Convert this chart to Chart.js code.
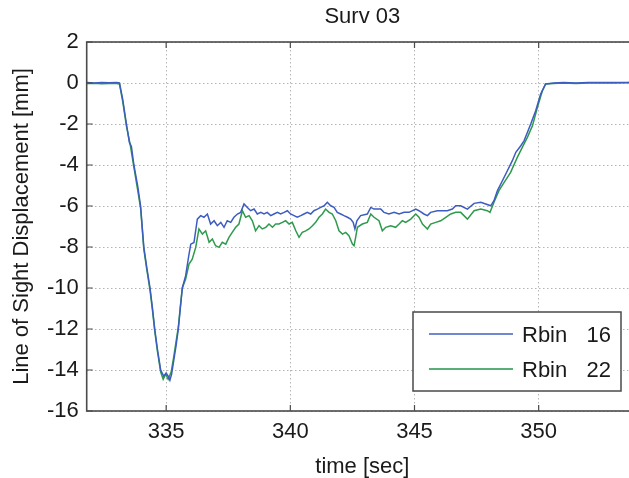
<!DOCTYPE html>
<html><head><meta charset="utf-8">
<script src="https://cdn.jsdelivr.net/npm/chart.js@4.4.0/dist/chart.umd.min.js"></script>
<style>html,body{margin:0;padding:0;overflow:hidden;background:#fff;width:629px;height:478px}canvas{display:block}</style>
</head><body><canvas id="c" width="640" height="478"></canvas>
<script>
const titleText = 'Surv 03';
const xLabel = 'time [sec]';
const yLabel = 'Line of Sight Displacement [mm]';
const xTicks = [335, 340, 345, 350];
const yTicks = [2, 0, -2, -4, -6, -8, -10, -12, -14, -16];
const seriesLabels = ['Rbin   16', 'Rbin   22'];

const t16 = [331.8,332.1,332.4,332.7,333.0,333.12,333.25,333.4,333.52,333.6,333.7,333.85,333.97,334.1,334.22,334.35,334.45,334.54,334.65,334.78,334.9,335.0,335.08,335.15,335.22,335.31,335.4,335.49,335.57,335.65,335.785,335.9,335.99,336.12,336.255,336.39,336.52,336.66,336.79,336.93,337.06,337.2,337.33,337.46,337.6,337.73,337.87,338.0,338.135,338.27,338.4,338.54,338.67,338.81,338.94,339.07,339.21,339.34,339.48,339.61,339.75,339.88,340.01,340.15,340.28,340.42,340.55,340.685,340.82,340.95,341.09,341.22,341.36,341.49,341.625,341.76,341.89,342.03,342.16,342.3,342.43,342.53,342.6,342.68,342.83,343.1,343.24,343.37,343.64,343.77,343.97,344.18,344.38,344.58,344.78,345.05,345.18,345.38,345.52,345.65,345.92,346.12,346.32,346.525,346.66,346.86,347.13,347.4,347.67,347.87,348.07,348.2,348.34,348.54,348.74,348.94,349.08,349.28,349.41,349.545,349.68,349.88,350.08,350.28,350.6,351.0,351.5,352.0,352.5,353.0,353.5,354.0];
const d16 = [0.02,0.0,0.03,0.01,0.03,0.0,-0.8,-2.0,-2.9,-3.1,-4.0,-5.0,-6.0,-8.0,-9.0,-10.0,-11.0,-12.0,-13.0,-14.0,-14.3,-14.15,-14.3,-14.5,-14.2,-13.5,-12.8,-12.0,-11.0,-10.0,-9.4,-8.5,-7.86,-7.78,-6.64,-6.47,-6.55,-6.39,-6.88,-6.72,-6.96,-6.80,-7.04,-6.72,-6.80,-6.55,-6.39,-6.31,-5.90,-6.07,-6.23,-6.15,-6.39,-6.31,-6.39,-6.31,-6.47,-6.39,-6.31,-6.39,-6.31,-6.23,-6.39,-6.47,-6.55,-6.47,-6.39,-6.31,-6.39,-6.23,-6.15,-6.07,-5.99,-5.82,-5.99,-6.07,-6.31,-6.39,-6.47,-6.55,-6.64,-6.80,-7.12,-6.72,-6.47,-6.39,-6.07,-6.15,-6.15,-6.31,-6.39,-6.31,-6.39,-6.31,-6.31,-6.15,-6.23,-6.39,-6.47,-6.31,-6.23,-6.23,-6.23,-6.15,-5.99,-5.99,-6.15,-5.87,-5.82,-5.90,-5.99,-5.74,-5.25,-4.77,-4.28,-3.79,-3.38,-3.06,-2.82,-2.41,-2.0,-1.35,-0.54,-0.05,0.0,0.02,0.0,0.03,0.02,0.03,0.02,0.04];

const t22 = [331.8,332.1,332.4,332.7,333.0,333.12,333.25,333.4,333.55,333.7,333.85,333.97,334.1,334.22,334.35,334.45,334.54,334.65,334.78,334.88,334.98,335.08,335.2,335.3,335.4,335.49,335.57,335.65,335.785,335.92,336.05,336.19,336.32,336.46,336.59,336.73,336.86,336.99,337.13,337.26,337.4,337.53,337.66,337.8,337.93,338.07,338.2,338.34,338.47,338.6,338.74,338.87,339.01,339.14,339.28,339.41,339.54,339.68,339.81,339.95,340.08,340.22,340.35,340.48,340.62,340.75,340.89,341.02,341.155,341.29,341.42,341.56,341.69,341.83,341.96,342.1,342.23,342.36,342.5,342.565,342.63,342.7,342.9,343.1,343.24,343.37,343.57,343.705,343.84,344.04,344.24,344.38,344.51,344.645,344.85,345.05,345.18,345.32,345.52,345.65,345.855,346.055,346.26,346.46,346.66,346.86,347.13,347.4,347.67,347.93,348.04,348.2,348.4,348.61,348.87,349.14,349.34,349.545,349.75,349.95,350.15,350.28,350.6,351.0,351.5,352.0,352.5,353.0,353.5,354.0];
const d22 = [-0.03,-0.01,-0.04,-0.02,-0.03,-0.05,-0.9,-2.1,-3.0,-4.1,-5.2,-6.1,-8.1,-9.1,-10.1,-11.1,-12.1,-13.1,-14.1,-14.45,-14.2,-14.45,-14.1,-13.4,-12.6,-11.9,-10.9,-10.0,-9.56,-8.83,-8.59,-8.02,-7.12,-7.37,-7.21,-7.77,-7.61,-7.94,-8.02,-7.77,-7.86,-7.53,-7.29,-7.04,-6.88,-6.23,-6.55,-6.47,-6.72,-7.21,-6.96,-7.12,-7.04,-6.88,-7.04,-6.88,-6.88,-6.80,-6.72,-6.88,-6.80,-7.21,-7.53,-7.29,-7.21,-7.12,-6.96,-6.80,-6.55,-6.39,-6.15,-6.31,-6.39,-6.72,-7.21,-7.37,-7.29,-7.45,-7.86,-7.94,-7.53,-7.04,-6.88,-6.80,-6.39,-6.55,-6.72,-7.21,-7.04,-6.96,-7.04,-6.88,-6.72,-6.80,-6.64,-6.39,-6.55,-6.88,-7.12,-6.88,-6.80,-6.72,-6.55,-6.39,-6.31,-6.31,-6.64,-6.23,-6.15,-6.23,-6.31,-5.82,-5.25,-4.85,-4.36,-3.63,-3.14,-2.65,-2.08,-1.19,-0.38,-0.05,-0.02,0.0,-0.02,0.0,0.01,0.0,0.01,0.02];

const FONT = "'Liberation Sans', Arial, Helvetica, sans-serif";
const FS = 22;
const TXT = '#1a1a1a';
const AX = '#4a4a4a';
const BLUE = '#3d5cc0';
const GREEN = '#2e9a4c';
const LEG_BLUE = '#7088d0';
const LEG_GREEN = '#5aaf78';

const framePlugin = {
  id: 'frame',
  afterDatasetsDraw(chart) {
    const {ctx, chartArea: a, scales} = chart;
    ctx.save();
    ctx.strokeStyle = AX;
    ctx.lineWidth = 1.2;
    ctx.beginPath();
    xTicks.forEach(v => {
      const px = scales.x.getPixelForValue(v);
      ctx.moveTo(px, a.bottom); ctx.lineTo(px, a.bottom - 6);
      ctx.moveTo(px, a.top); ctx.lineTo(px, a.top + 6);
    });
    yTicks.forEach(v => {
      const py = scales.y.getPixelForValue(v);
      ctx.moveTo(a.left, py); ctx.lineTo(a.left + 6, py);
      ctx.moveTo(a.right, py); ctx.lineTo(a.right - 6, py);
    });
    ctx.stroke();
    ctx.lineWidth = 1.6;
    ctx.strokeRect(a.left, a.top, a.right - a.left, a.bottom - a.top);

    // legend (south-east)
    const bw = 208, bh = 79;
    const bx = a.right - 17 - bw, by = a.bottom - 20 - bh;
    ctx.fillStyle = '#fff';
    ctx.fillRect(bx, by, bw, bh);
    ctx.lineWidth = 1.5;
    ctx.strokeStyle = AX;
    ctx.strokeRect(bx, by, bw, bh);
    const cols = [LEG_BLUE, LEG_GREEN];
    const rows = [22, 57];
    chart.data.datasets.forEach((ds, i) => {
      const y = by + rows[i];
      ctx.strokeStyle = cols[i];
      ctx.lineWidth = 2;
      ctx.beginPath();
      ctx.moveTo(bx + 16, y); ctx.lineTo(bx + 100, y);
      ctx.stroke();
      const parts = ds.label.split(/\s+/);
      ctx.fillStyle = TXT;
      ctx.font = FS + 'px ' + FONT;
      ctx.textBaseline = 'middle';
      ctx.textAlign = 'left';
      ctx.fillText(parts[0], bx + 109, y + 2);
      ctx.textAlign = 'right';
      ctx.fillText(parts[1], bx + bw - 10, y + 2);
    });

    // title centred over plot area
    ctx.fillStyle = TXT;
    ctx.font = FS + 'px ' + FONT;
    ctx.textAlign = 'center';
    ctx.textBaseline = 'middle';
    ctx.fillText(titleText, (a.left + a.right) / 2, 17);
    ctx.restore();
  }
};

new Chart(document.getElementById('c'), {
  type: 'line',
  data: {
    datasets: [
      {label: seriesLabels[0], data: t16.map((t, i) => ({x: t, y: d16[i]})), borderColor: BLUE, borderWidth: 1.5, pointRadius: 0, tension: 0, fill: false},
      {label: seriesLabels[1], data: t22.map((t, i) => ({x: t, y: d22[i]})), borderColor: GREEN, borderWidth: 1.5, pointRadius: 0, tension: 0, fill: false}
    ]
  },
  options: {
    responsive: false,
    animation: false,
    devicePixelRatio: 1,
    layout: {padding: {top: 42, right: 2, left: 0, bottom: 0}},
    plugins: {legend: {display: false}, title: {display: false}, tooltip: {enabled: false}},
    scales: {
      x: {
        type: 'linear', min: 331.8, max: 354,
        afterBuildTicks: s => { s.ticks = xTicks.map(v => ({value: v})); },
        afterFit: s => { s.height = 67; },
        ticks: {padding: 8, color: TXT, font: {family: FONT, size: FS}, maxRotation: 0, autoSkip: false, callback: v => String(v)},
        grid: {color: '#b5b5b5', lineWidth: 1, drawTicks: false},
        border: {display: false, dash: [1.5, 2.5]},
        title: {display: true, text: xLabel, color: TXT, font: {family: FONT, size: FS}, padding: {top: 0, bottom: -2}}
      },
      y: {
        type: 'linear', min: -16, max: 2,
        afterBuildTicks: s => { s.ticks = yTicks.map(v => ({value: v})); },
        afterFit: s => { s.width = 86.7; },
        ticks: {padding: 8, color: TXT, font: {family: FONT, size: FS}, autoSkip: false, callback: v => String(v)},
        grid: {color: '#b5b5b5', lineWidth: 1, drawTicks: false},
        border: {display: false, dash: [1.5, 2.5]},
        title: {display: true, text: yLabel, color: TXT, font: {family: FONT, size: FS}, padding: {top: 8.5, bottom: 0}}
      }
    }
  },
  plugins: [framePlugin]
});
</script>
</body></html>
